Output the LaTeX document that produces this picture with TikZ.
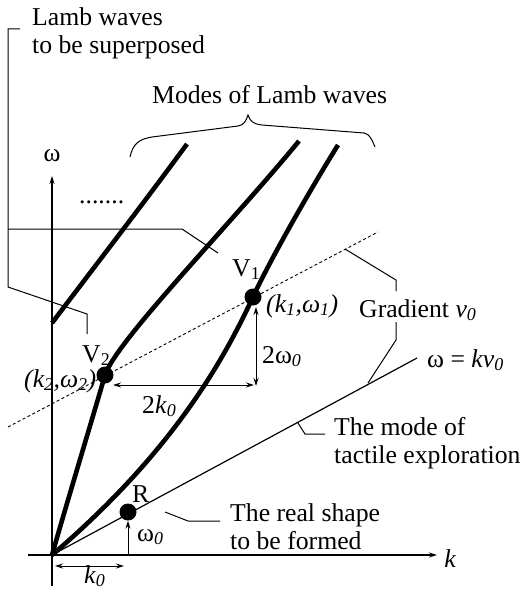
\documentclass[tikz,border=0pt]{standalone}
\usepackage{fontspec}
\setmainfont{Liberation Serif}
\usetikzlibrary{arrows.meta}
\newcommand{\lsub}[1]{\textsubscript{#1}}
\tikzset{
  lbl/.style={font=\fontsize{25.7}{28}\selectfont, inner sep=0pt, anchor=base west},
  lbltwo/.style={font=\fontsize{25.7}{28}\selectfont, inner sep=0pt, anchor=north west, align=left},
  modeline/.style={line width=4.6pt},
  axisline/.style={line width=1.2pt},
  leader/.style={line width=1pt},
  gradline/.style={line width=0.9pt, dash pattern=on 3pt off 2.5pt},
  dimline/.style={line width=1pt},
  pt/.style={circle, fill=black, minimum size=17pt, inner sep=0pt},
  tip/.style={-{Stealth[length=8pt,width=5pt]}},
  tips/.style={{Stealth[length=8pt,width=5pt]}-{Stealth[length=8pt,width=5pt]}}
}
\begin{document}
\begin{tikzpicture}[x=1pt,y=-1pt]
\useasboundingbox (0,0) rectangle (521,591);
% axes
\coordinate (O) at (52,555);
\coordinate (kst) at (28,555);
\coordinate (ken) at (437,555);
\coordinate (wbot) at (52,586);
\coordinate (wtop) at (52,176);
\draw[axisline,tip] (kst) -- (ken);
\draw[axisline,tip] (wbot) -- (wtop);
\node[lbl,anchor=base] (klab) at (450,567) {\itshape k};
\node[lbl,anchor=base] (wlab) at (52,161) {ω};
% points on the modes
\coordinate (V2c) at (105,375);
\coordinate (V1c) at (253,297);
% modes
\draw[modeline] (52,323) .. controls (95,266) and (140,208) .. (187,144);
\draw[modeline] (O) .. controls (70,492) and (95,410) .. (V2c)
  .. controls (117,340) and (230,225) .. (299,141);
\draw[modeline] (O) .. controls (175,450) and (225,357) .. (V1c)
  .. controls (270,260) and (310,190) .. (338,145);
% points
\node[pt] (V2pt) at (V2c) {};
\node[pt] (V1pt) at (V1c) {};
\node[pt] (Rpt) at (128,512) {};
% gradient line
\coordinate (gA) at (8,427);
\coordinate (gB) at (378,232);
\draw[gradline] (gA) -- (gB);
% omega = k v0 line
\coordinate (wk) at (417,358);
\draw[axisline] (O) -- (wk);
% dimension arrows
\coordinate (h1) at (113,385);
\coordinate (h2) at (254,385);
\coordinate (v1) at (256,307);
\coordinate (v2) at (256,386);
\draw[dimline,tips] (h1) -- (h2);
\draw[dimline,tips] (v2) -- (v1);
\coordinate (Rfoot) at (128,555);
\draw[dimline,tip] (Rfoot) -- (Rpt.south);
\coordinate (ka) at (55,566);
\coordinate (kb) at (124,566);
\draw[dimline,tips] (ka) -- (kb);
% labels
\node[lbl] (V1lab) at (232,276) {V\lsub{1}};
\node[lbl] (V2lab) at (82,362) {V\lsub{2}};
\node[lbl] (Rlab) at (132,502) {R};
\node[lbl] (k1lab) at (266,312) {\itshape (k\lsub{1},ω\lsub{1})};
\node[lbl] (k2lab) at (24,387) {\itshape (k\lsub{2},ω\lsub{2})};
\node[lbl] (w2lab) at (262,363) {2ω\lsub{\itshape 0}};
\node[lbl] (k2dlab) at (142,413) {2\textit{k}\lsub{\itshape 0}};
\node[lbl] (w0lab) at (137,541) {ω\lsub{\itshape 0}};
\node[lbl] (k0lab) at (84,583) {\textit{k}\lsub{\itshape 0}};
\node[lbl] (gradlab) at (359,317) {Gradient \textit{v}\lsub{\itshape 0}};
\node[lbl] (wkvlab) at (427,367) {ω = \textit{kv}\lsub{\itshape 0}};
\node[lbl] (dots) at (79,203) {.......};
\node[lbl] (modes) at (152,103) {Modes of Lamb waves};
\node[lbltwo] (lamb) at (32,7) {Lamb waves\\to be superposed};
\node[lbltwo] (tact) at (334,417) {The mode of\\tactile exploration};
\node[lbltwo] (real) at (230,503) {The real shape\\to be formed};
% brace
\draw[leader] (130,157) .. controls (133,143) and (140,139) .. (152,137) -- (238,126) .. controls (244,125) and (246,121) .. (248,115) .. controls (250,121) and (253,124) .. (262,125) -- (364,133) .. controls (370,134) and (372,140) .. (375,147);
% leaders
\coordinate (b0) at (20,29);
\coordinate (b1) at (8,29);
\coordinate (b2) at (8,287);
\coordinate (b3) at (87,314);
\coordinate (b4) at (87,334);
\coordinate (b5) at (8,229);
\coordinate (b6) at (182,229);
\coordinate (b7) at (218,253);
\draw[leader] (b0) -- (b1) -- (b2) -- (b3) -- (b4);
\draw[leader] (b5) -- (b6) -- (b7);
\coordinate (g1) at (345,249);
\coordinate (g2) at (396,280);
\coordinate (g3) at (396,291);
\coordinate (g4) at (396,322);
\coordinate (g5) at (396,340);
\coordinate (g6) at (368,383);
\draw[leader] (g1) -- (g2) -- (g3);
\draw[leader] (g4) -- (g5) -- (g6);
\coordinate (t1) at (298,423);
\coordinate (t2) at (305,434);
\coordinate (t3) at (325,434);
\draw[leader] (t1) -- (t2) -- (t3);
\coordinate (r1) at (165,512);
\coordinate (r2) at (188,521);
\coordinate (r3) at (220,521);
\draw[leader] (r1) -- (r2) -- (r3);
\end{tikzpicture}
\end{document}
